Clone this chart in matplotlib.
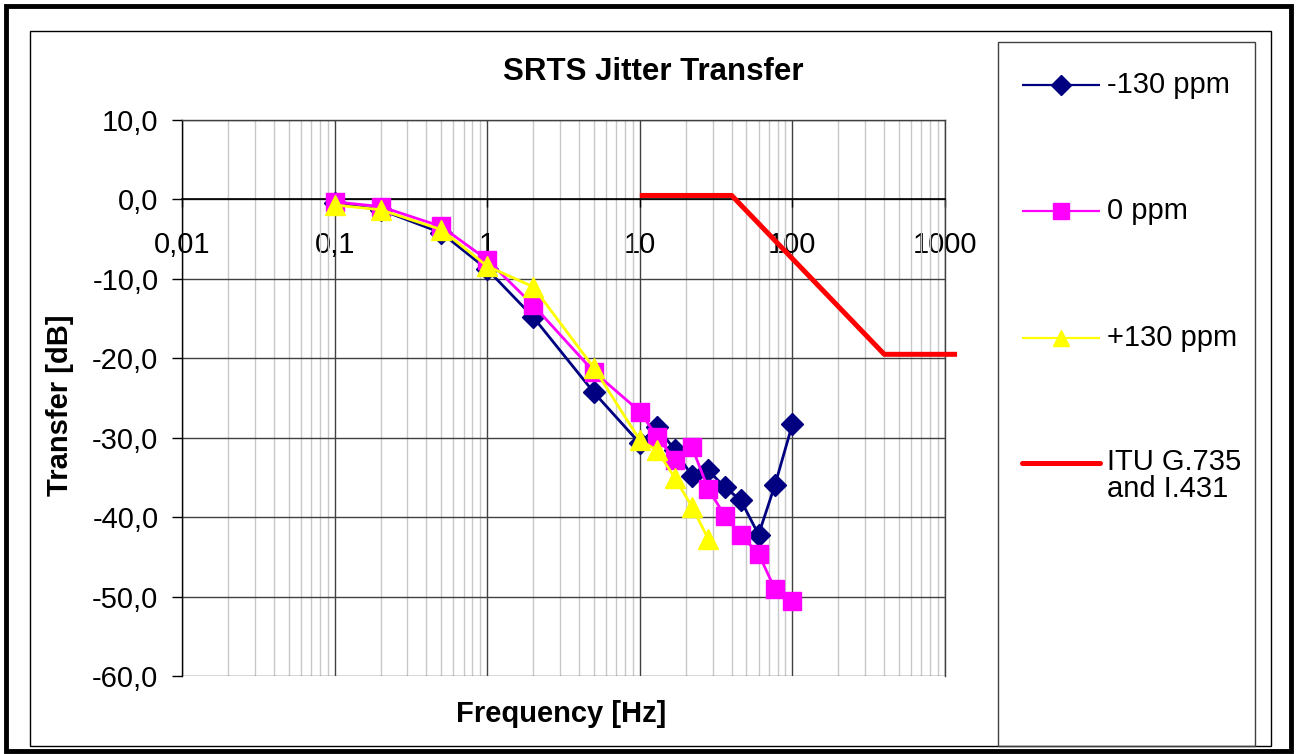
import matplotlib
matplotlib.use("Agg")
import matplotlib.pyplot as plt
from matplotlib.lines import Line2D
from matplotlib.patches import Rectangle
from matplotlib.ticker import FixedLocator, FixedFormatter, LogLocator, NullFormatter

plt.rcParams['font.family'] = ['Liberation Sans', 'DejaVu Sans']

# ---- data ----
freq_neg = [0.1, 0.2, 0.5, 1, 2, 5, 10, 13, 17, 22, 28, 36, 46, 60, 77, 100]
neg130 = [-0.5, -1.3, -4.2, -8.8, -14.8, -24.3, -30.7, -28.6, -31.6, -34.8, -34.1, -36.2, -37.9, -42.2, -35.9, -28.3]

freq_zero = [0.1, 0.2, 0.5, 1, 2, 5, 10, 13, 17, 22, 28, 36, 46, 60, 77, 100]
zero_ppm = [-0.3, -0.9, -3.4, -7.6, -13.3, -21.7, -26.7, -29.9, -32.8, -31.2, -36.4, -39.8, -42.3, -44.6, -49.1, -50.6]

freq_pos = [0.1, 0.2, 0.5, 1, 2, 5, 10, 13, 17, 22, 28]
pos130 = [-0.7, -1.3, -3.8, -8.4, -11.0, -21.2, -30.3, -31.6, -35.1, -38.7, -42.7]

freq_itu = [10, 40, 400, 1200]
itu_mask = [0.5, 0.5, -19.5, -19.5]

x_ticks = [0.01, 0.1, 1, 10, 100, 1000]
x_labels = ["0,01", "0,1", "1", "10", "100", "1000"]
y_ticks = [10, 0, -10, -20, -30, -40, -50, -60]
y_labels = ["10,0", "0,0", "-10,0", "-20,0", "-30,0", "-40,0", "-50,0", "-60,0"]

series_names = ["-130 ppm", "0 ppm", "+130 ppm", "ITU G.735\nand I.431"]

NAVY = "#000080"
MAG = "#FF00FF"
YEL = "#FFFF00"
RED = "#FF0000"

W, H = 1297, 754
fig = plt.figure(figsize=(W / 100, H / 100), dpi=100)


def fx(px):
    return px / W


def fy(py):
    return 1 - py / H


ax = fig.add_axes([fx(182), fy(676), fx(945) - fx(182), fy(120) - fy(676)])
ax.set_xscale('log')
ax.set_xlim(0.01, 1000)
ax.set_ylim(-60, 10)

# grid
ax.xaxis.set_major_locator(FixedLocator(x_ticks))
ax.xaxis.set_major_formatter(FixedFormatter(x_labels))
ax.xaxis.set_minor_locator(LogLocator(base=10, subs=range(2, 10), numticks=20))
ax.xaxis.set_minor_formatter(NullFormatter())
ax.yaxis.set_major_locator(FixedLocator(y_ticks))
ax.yaxis.set_major_formatter(FixedFormatter(y_labels))

ax.grid(True, which='major', axis='both', color='#404040', lw=1.0, zorder=0)
ax.grid(True, which='minor', axis='x', color='#c8c8c8', lw=1.0, zorder=0)
ax.set_axisbelow(True)

for s in ['top', 'right']:
    ax.spines[s].set_color('#404040')
    ax.spines[s].set_linewidth(1.0)
ax.spines['left'].set_color('black')
ax.spines['left'].set_linewidth(1.0)
ax.spines['bottom'].set_position(('data', 0))
ax.spines['bottom'].set_color('black')
ax.spines['bottom'].set_linewidth(1.2)

ax.tick_params(axis='x', which='major', direction='out', length=6, width=1,
               color='black', pad=17, labelsize=21)
ax.tick_params(axis='x', which='minor', length=0)
ax.tick_params(axis='y', which='major', direction='out', length=7, width=1,
               color='black', pad=10, labelsize=21)

MS_D, MS_S, MS_T = 11, 13, 14
LW = 2.0

# series
ax.plot(freq_neg, neg130, color=NAVY, lw=LW, marker='D', ms=MS_D,
        mfc=NAVY, mec=NAVY, zorder=3)
ax.plot(freq_zero, zero_ppm, color=MAG, lw=LW, marker='s', ms=MS_S,
        mfc=MAG, mec=MAG, zorder=4)
ax.plot(freq_pos, pos130, color=YEL, lw=LW, marker='^', ms=MS_T,
        mfc=YEL, mec=YEL, zorder=5)
ax.plot(freq_itu, itu_mask, color=RED, lw=3.6, zorder=6, clip_on=False,
        solid_capstyle='butt')

# titles
fig.text(fx(653), fy(72), "SRTS Jitter Transfer", ha='center', va='center',
         fontsize=22.5, fontweight='bold')
fig.text(fx(561), fy(714), "Frequency [Hz]", ha='center', va='center',
         fontsize=21, fontweight='bold')
fig.text(fx(60), fy(405), "Transfer [dB]", ha='center', va='center',
         rotation=90, fontsize=21, fontweight='bold')

# frames
fig.add_artist(Rectangle((fx(6), fy(751)), fx(1291) - fx(6), fy(6) - fy(751),
                         transform=fig.transFigure, fill=False, lw=3.5,
                         edgecolor='black'))
fig.add_artist(Rectangle((fx(30), fy(746)), fx(1271) - fx(30), fy(31) - fy(746),
                         transform=fig.transFigure, fill=False, lw=1.0,
                         edgecolor='black'))
fig.add_artist(Rectangle((fx(998), fy(746)), fx(1255) - fx(998), fy(42) - fy(746),
                         transform=fig.transFigure, fill=False, lw=1.0,
                         edgecolor='#404040'))

# legend (manual, inside the right box)
leg_rows = [
    (85, NAVY, 1.6, 'D', 10),
    (211, MAG, 1.6, 's', 11),
    (338, YEL, 1.6, '^', 12),
    (463, RED, 3.6, None, 0),
]
for (py, col, lw, mk, ms), name in zip(leg_rows, series_names):
    fig.add_artist(Line2D([fx(1022), fx(1100)], [fy(py), fy(py)],
                          transform=fig.transFigure, color=col, lw=lw,
                          solid_capstyle='round' if mk is None else 'butt'))
    if mk is not None:
        fig.add_artist(Line2D([fx(1061)], [fy(py)], transform=fig.transFigure,
                              linestyle='none', marker=mk, ms=ms,
                              mfc=col, mec=col))
    if '\n' in name:
        fig.text(fx(1107), fy(py - 15), name, ha='left', va='top',
                 fontsize=21, linespacing=0.95)
    else:
        fig.text(fx(1107), fy(py), name, ha='left', va='center', fontsize=21)

fig.savefig("out.png", dpi=100)
